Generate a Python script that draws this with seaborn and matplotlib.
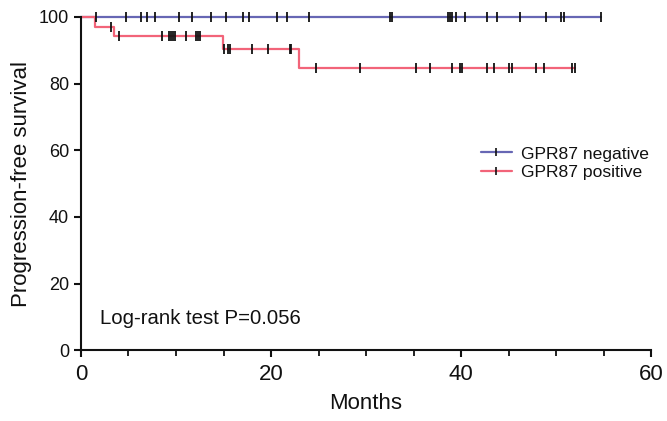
import numpy as np
import pandas as pd
import matplotlib
matplotlib.use("Agg")
import matplotlib.pyplot as plt
import seaborn as sns
from matplotlib.lines import Line2D
from matplotlib.ticker import MultipleLocator

# step curves (months, survival %)
neg_times = [0, 54.7]
neg_surv = [100, 100]
pos_times = [0, 1.5, 3.5, 14.9, 22.9, 52.0]
pos_surv = [100, 97.1, 94.3, 90.3, 84.8, 84.8]

# censored observations (months)
neg_censor = [1.6, 4.7, 6.3, 6.9, 7.8, 10.3, 11.7, 13.7, 15.3, 17.0, 17.7, 20.6,
              21.7, 24.0, 32.5, 32.7, 38.6, 38.8, 39.0, 39.5, 40.4, 42.7, 43.8,
              46.2, 48.9, 50.5, 50.8, 54.7]
pos_censor = [3.2, 4.0, 8.5, 9.3, 9.5, 9.7, 9.9, 11.1, 12.1, 12.3, 12.5, 15.1,
              15.5, 15.7, 18.0, 19.7, 22.0, 22.1, 24.7, 29.4, 35.2, 36.7, 39.0,
              39.9, 40.1, 42.7, 43.5, 45.0, 45.4, 47.9, 48.7, 51.7, 52.0]

groups = ["GPR87 negative", "GPR87 positive"]
colors = {"GPR87 negative": "#6767b4", "GPR87 positive": "#f26479"}


def surv_at(times, surv, t):
    idx = np.searchsorted(times, t, side="right") - 1
    return np.asarray(surv)[idx]


curves = pd.concat([
    pd.DataFrame({"Months": neg_times, "Survival": neg_surv, "Group": groups[0]}),
    pd.DataFrame({"Months": pos_times, "Survival": pos_surv, "Group": groups[1]}),
])
cens = pd.concat([
    pd.DataFrame({"Months": neg_censor,
                  "Survival": surv_at(neg_times, neg_surv, neg_censor),
                  "Group": groups[0]}),
    pd.DataFrame({"Months": pos_censor,
                  "Survival": surv_at(pos_times, pos_surv, pos_censor),
                  "Group": groups[1]}),
])

sns.set_style("ticks")
plt.rcParams["font.family"] = ["Liberation Sans", "DejaVu Sans"]
plt.rcParams["text.color"] = "#111111"
plt.rcParams["axes.labelcolor"] = "#111111"
plt.rcParams["xtick.color"] = "#111111"
plt.rcParams["ytick.color"] = "#111111"
plt.rcParams["axes.edgecolor"] = "#111111"

fig = plt.figure(figsize=(6.67, 4.21), dpi=100)
ax = fig.add_axes([0.1214, 0.168, 0.855, 0.792])

sns.lineplot(data=curves, x="Months", y="Survival", hue="Group",
             palette=colors, drawstyle="steps-post", estimator=None,
             linewidth=1.6, legend=False, ax=ax)
sns.scatterplot(data=cens, x="Months", y="Survival", marker="|", s=50,
                color="#111111", linewidth=1.3, legend=False, ax=ax, zorder=5)

ax.set_xlim(0, 60)
ax.set_ylim(0, 100)
ax.xaxis.set_major_locator(MultipleLocator(20))
ax.xaxis.set_minor_locator(MultipleLocator(5))
ax.yaxis.set_major_locator(MultipleLocator(20))
sns.despine(ax=ax)
for s in ["left", "bottom"]:
    ax.spines[s].set_linewidth(1.5)
ax.tick_params(axis="both", which="major", length=5, width=1.5, labelsize=13)
ax.tick_params(axis="x", which="minor", length=4, width=1.3)
ax.tick_params(axis="x", labelsize=16, pad=5)
for c in ax.collections + ax.lines:
    c.set_clip_on(False)

ax.set_xlabel("Months", fontsize=16, labelpad=6)
ax.set_ylabel("Progression-free survival", fontsize=16, labelpad=5)

ax.text(2, 9.5, "Log-rank test P=0.056", fontsize=14.7, va="center")

handles = [Line2D([0], [0], color=colors[g], lw=1.6, marker="|",
                  markersize=6, markeredgecolor="#111111", markeredgewidth=1.2)
           for g in groups]
ax.legend(handles, groups, loc="upper left", bbox_to_anchor=(0.697, 0.69),
          bbox_transform=fig.transFigure, frameon=False, fontsize=12.6,
          handlelength=1.8, labelspacing=0.2, handletextpad=0.5)

fig.savefig("out.png", dpi=100)
